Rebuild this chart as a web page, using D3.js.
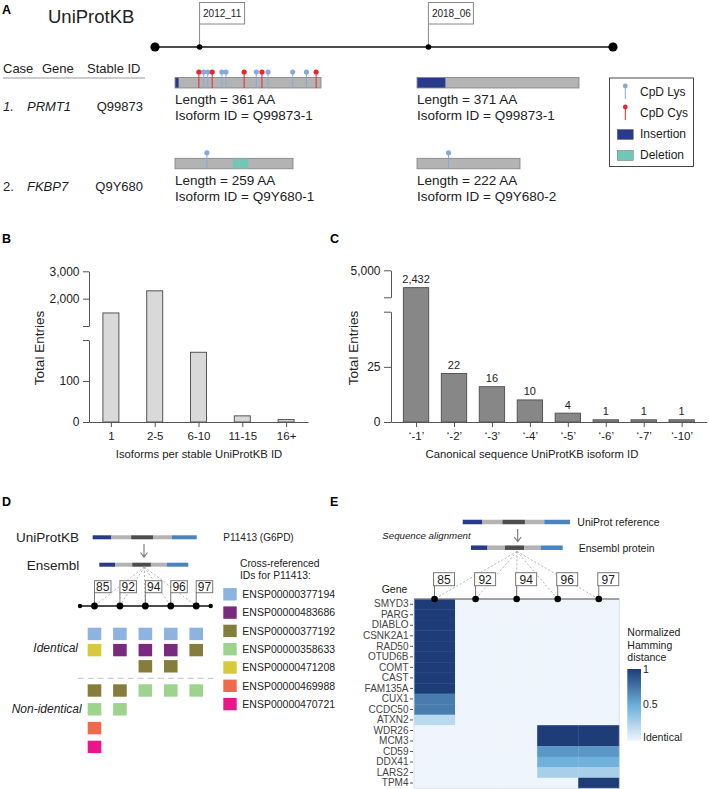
<!DOCTYPE html>
<html>
<head>
<meta charset="utf-8">
<script src="https://cdn.jsdelivr.net/npm/d3@7"></script>
<style>
  body { margin: 0; background: #fff; }
  svg { display: block; font-family: "Liberation Sans", Arial, sans-serif; }
</style>
</head>
<body>
<script>
// ---- Panel A data
const releaseNames = ["2012_11", "2018_06"];
const releaseDates = ["2012-11", "2018-06"];
const caseGenes = ["PRMT1", "FKBP7"];
const stableIds = ["Q99873", "Q9Y680"];
const isoformLengths = [[361, 371], [259, 222]];
const isoformIds = [["Q99873-1", "Q99873-1"], ["Q9Y680-1", "Q9Y680-2"]];
const lysSites = [[[71, 81, 116, 126, 201, 230, 291, 325], []], [[70], [68]]];
const cysSites = [[[59, 92, 171, 215, 349], []], [[], []]];
const insertions = [[[0, 8], [0, 64]], [null, null]];
const deletions = [[null, null], [[127, 161], null]];
const legendA = ["CpD Lys", "CpD Cys", "Insertion", "Deletion"];

// ---- Panel B data
const isoformBins = ["1", "2-5", "6-10", "11-15", "16+"];
const isoformBinCounts = [1477, 2286, 170, 15, 6];

// ---- Panel C data
const canonicalLabels = ["‘-1’", "‘-2’", "‘-3’", "‘-4’", "‘-5’", "‘-6’", "‘-7’", "‘-10’"];
const canonicalCounts = [2432, 22, 16, 10, 4, 1, 1, 1];

// ---- Panel D data
const ensemblReleases = ["85", "92", "94", "96", "97"];
const ensemblIds = ["ENSP00000377194", "ENSP00000483686", "ENSP00000377192", "ENSP00000358633",
  "ENSP00000471208", "ENSP00000469988", "ENSP00000470721"];
const ensemblColors = ["#8db3e0", "#7a2a7e", "#857d3c", "#9dd38c", "#d8c93a", "#f0694a", "#e8158b"];
const identicalIds = [
  ["ENSP00000377194", "ENSP00000471208"],
  ["ENSP00000377194", "ENSP00000483686"],
  ["ENSP00000377194", "ENSP00000483686", "ENSP00000377192"],
  ["ENSP00000377194", "ENSP00000483686", "ENSP00000377192"],
  ["ENSP00000377194", "ENSP00000377192"]
];
const nonIdenticalIds = [
  ["ENSP00000377192", "ENSP00000358633", "ENSP00000469988", "ENSP00000470721"],
  ["ENSP00000377192", "ENSP00000358633"],
  ["ENSP00000358633"],
  ["ENSP00000358633"],
  ["ENSP00000358633"]
];

// ---- Panel E data
const genes = ["SMYD3", "PARG", "DIABLO", "CSNK2A1", "RAD50", "OTUD6B", "COMT", "CAST", "FAM135A",
  "CUX1", "CCDC50", "ATXN2", "WDR26", "MCM3", "CD59", "DDX41", "LARS2", "TPM4"];
const hamming85 = [1, 1, 1, 1, 1, 1, 1, 1, 1, 0.72, 0.72, 0.2, 0, 0, 0, 0, 0, 0];
const hamming92 = [0, 0, 0, 0, 0, 0, 0, 0, 0, 0, 0, 0, 0, 0, 0, 0, 0, 0];
const hamming94 = [0, 0, 0, 0, 0, 0, 0, 0, 0, 0, 0, 0, 0, 0, 0, 0, 0, 0];
const hamming96 = [0, 0, 0, 0, 0, 0, 0, 0, 0, 0, 0, 0, 1, 1, 0.6, 0.48, 0.27, 0];
const hamming97 = [0, 0, 0, 0, 0, 0, 0, 0, 0, 0, 0, 0, 1, 1, 0.6, 0.48, 0.27, 1];
const hammingColumns = [hamming85, hamming92, hamming94, hamming96, hamming97];

// schematic protein domains (fractions of bar length)
const domainFractions = [0.18, 0.19, 0.21, 0.18, 0.24];
const domainColors = ["#273a8c", "#b3b3b3", "#4d4d4d", "#b3b3b3", "#4a84c0"];

const ink = "#222";
const svg = d3.select("body").append("svg").attr("width", 709).attr("height", 789);

function text(g, x, y, str, size, opts = {}) {
  return g.append("text").attr("x", x).attr("y", y).attr("font-size", size)
    .attr("fill", opts.fill || ink)
    .attr("text-anchor", opts.anchor || "start")
    .attr("font-style", opts.italic ? "italic" : null)
    .attr("font-weight", opts.bold ? "bold" : null)
    .text(str);
}

// panel letters
[["A", 2, 14], ["B", 2, 243], ["C", 330, 243], ["D", 2, 506], ["E", 330, 506]]
  .forEach(([l, x, y]) => text(svg, x, y, l, 12.5, { bold: true, fill: "#000" }));

// ================= Panel A =================
const gA = svg.append("g");
text(gA, 48, 23, "UniProtKB", 18.5);

const parseMonth = d3.timeParse("%Y-%m");
const xTime = d3.scaleTime([parseMonth("2011-10"), parseMonth("2022-12")], [155, 613]);
const tlY = 47;
gA.append("line").attr("x1", xTime.range()[0]).attr("x2", xTime.range()[1])
  .attr("y1", tlY).attr("y2", tlY).attr("stroke", "#111").attr("stroke-width", 1.3);
gA.selectAll("circle.end").data(xTime.range()).join("circle")
  .attr("cx", d => d).attr("cy", tlY).attr("r", 4.6).attr("fill", "#000");

const rel = gA.selectAll("g.rel").data(releaseNames).join("g");
rel.append("line")
  .attr("x1", (d, i) => xTime(parseMonth(releaseDates[i])))
  .attr("x2", (d, i) => xTime(parseMonth(releaseDates[i])))
  .attr("y1", 24).attr("y2", tlY).attr("stroke", "#888");
rel.append("rect")
  .attr("x", (d, i) => xTime(parseMonth(releaseDates[i])))
  .attr("y", 2.5).attr("width", 45).attr("height", 21.5)
  .attr("fill", "#fff").attr("stroke", "#888");
rel.append("text")
  .attr("x", (d, i) => xTime(parseMonth(releaseDates[i])) + 3.5)
  .attr("y", 17).attr("font-size", 10).attr("fill", ink).text(d => d);
rel.append("circle")
  .attr("cx", (d, i) => xTime(parseMonth(releaseDates[i])))
  .attr("cy", tlY).attr("r", 2.8).attr("fill", "#000");

// case table
text(gA, 3, 73, "Case", 13);
text(gA, 42, 73, "Gene", 13);
text(gA, 87, 73, "Stable ID", 13);
gA.append("line").attr("x1", 3).attr("x2", 145).attr("y1", 78).attr("y2", 78)
  .attr("stroke", "#999");

const rowY = [77.5, 158.3];        // top of protein bar per case
const colX = [175, 417];           // left of protein bar per release
const barPx = [[146, 162], [118, 103]];
const barH = 10.5;
const lysColor = "#85a9dd", cysColor = "#e8262b";

caseGenes.forEach((gene, i) => {
  const ty = rowY[i] + 33;
  text(gA, 3, ty, (i + 1) + ".", 13, { italic: i === 0 });
  text(gA, 27, ty, gene, 13, { italic: true });
  text(gA, 143, ty, stableIds[i], 13, { anchor: "end" });

  releaseNames.forEach((r, j) => {
    const len = isoformLengths[i][j];
    const x = d3.scaleLinear([0, len], [colX[j], colX[j] + barPx[i][j]]);
    const y0 = rowY[i];
    const g = gA.append("g");
    g.append("rect").attr("x", x(0)).attr("y", y0).attr("width", x(len) - x(0)).attr("height", barH)
      .attr("fill", "#b3b3b3").attr("stroke", "#808080").attr("stroke-width", 0.8);
    if (insertions[i][j]) {
      const [a, b] = insertions[i][j];
      g.append("rect").attr("x", x(a) + 0.4).attr("y", y0 + 0.4).attr("width", x(b) - x(a))
        .attr("height", barH - 0.8).attr("fill", "#273a8c");
    }
    if (deletions[i][j]) {
      const [a, b] = deletions[i][j];
      g.append("rect").attr("x", x(a)).attr("y", y0 + 0.4).attr("width", x(b) - x(a))
        .attr("height", barH - 0.8).attr("fill", "#72c6b6");
    }
    const sites = lysSites[i][j].map(p => ({ p, c: lysColor }))
      .concat(cysSites[i][j].map(p => ({ p, c: cysColor })));
    g.selectAll("line.site").data(sites).join("line")
      .attr("x1", d => x(d.p)).attr("x2", d => x(d.p))
      .attr("y1", y0 - 5).attr("y2", y0 + barH).attr("stroke", d => d.c).attr("stroke-width", 1);
    g.selectAll("circle.site").data(sites).join("circle")
      .attr("cx", d => x(d.p)).attr("cy", y0 - 5.5).attr("r", 2.6).attr("fill", d => d.c);
    text(g, x(0), y0 + 26.5, `Length = ${len} AA`, 13.5);
    text(g, x(0), y0 + 42.5, `Isoform ID = ${isoformIds[i][j]}`, 13.5);
  });
});

// legend A
const legA = gA.append("g");
legA.append("rect").attr("x", 609.5).attr("y", 78).attr("width", 84).attr("height", 88.5)
  .attr("fill", "#fff").attr("stroke", "#333").attr("stroke-width", 0.9);
legendA.forEach((lab, k) => {
  const cy = 92 + k * 21;
  if (k < 2) {
    const c = k === 0 ? lysColor : cysColor;
    legA.append("line").attr("x1", 625.3).attr("x2", 625.3).attr("y1", cy - 6).attr("y2", cy + 7)
      .attr("stroke", c);
    legA.append("circle").attr("cx", 625.3).attr("cy", cy - 6).attr("r", 2.4).attr("fill", c);
  } else {
    legA.append("rect").attr("x", 617.3).attr("y", cy - 4.5).attr("width", 16).attr("height", 10)
      .attr("fill", k === 2 ? "#273a8c" : "#72c6b6").attr("stroke", "#555").attr("stroke-width", 0.4);
  }
  text(legA, 640, cy + 4.3, lab, 12);
});

// ================= broken-axis bar charts =================
function brokenBars({ cats, vals, xRange, xPad, hiDom, hiRange, loDom, loRange, hiTicks, loTicks,
                      barW, fill, xLabel, yLabelX, xLabelX, values, tickLen }) {
  const g = svg.append("g");
  const x = d3.scalePoint(cats, xRange).padding(xPad);
  const yHi = d3.scaleLinear(hiDom, hiRange);
  const yLo = d3.scaleLinear(loDom, loRange);
  const y = v => v > loDom[1] ? yHi(v) : yLo(v);
  const base = loRange[0];

  g.selectAll("rect").data(vals).join("rect")
    .attr("x", (d, i) => x(cats[i]) - barW / 2).attr("y", d => y(d))
    .attr("width", barW).attr("height", d => base - y(d))
    .attr("fill", fill).attr("stroke", "#555").attr("stroke-width", 1);

  if (values) {
    g.selectAll("text.val").data(vals).join("text")
      .attr("x", (d, i) => x(cats[i])).attr("y", d => y(d) - 4.5)
      .attr("text-anchor", "middle").attr("font-size", 11).attr("fill", ink)
      .text(d => d3.format(",")(d));
  }

  const fmt = d3.format(",");
  const styleAxis = a => {
    a.attr("font-family", null).attr("font-size", 12);
    a.selectAll("path,line").attr("stroke", "#555");
    a.selectAll("text").attr("fill", ink);
  };
  g.append("g").attr("transform", `translate(${xRange[0]},0)`)
    .call(d3.axisLeft(yHi).tickValues(hiTicks).tickSize(tickLen).tickPadding(3.5).tickSizeOuter(0)
      .tickFormat(d => d === hiDom[0] ? "" : fmt(d)))
    .call(styleAxis);
  g.append("g").attr("transform", `translate(${xRange[0]},0)`)
    .call(d3.axisLeft(yLo).tickValues(loTicks).tickSize(tickLen).tickPadding(3.5).tickSizeOuter(0)
      .tickFormat(d => d === loDom[1] ? "" : fmt(d)))
    .call(styleAxis);
  g.append("g").attr("transform", `translate(0,${base})`)
    .call(d3.axisBottom(x).tickSize(5).tickPadding(5).tickSizeOuter(0))
    .call(styleAxis)
    .call(a => a.attr("font-size", 11.5));

  text(g, xLabelX, 458, xLabel, 11.3, { anchor: "middle" });
  g.append("text").attr("transform", `translate(${yLabelX},348) rotate(-90)`)
    .attr("text-anchor", "middle").attr("dy", "0.35em").attr("font-size", 13.5).attr("fill", ink)
    .text("Total Entries");
}

// Panel B
brokenBars({
  cats: isoformBins, vals: isoformBinCounts, xRange: [89, 308], xPad: 0.5,
  hiDom: [1000, 3000], hiRange: [326, 271.3], loDom: [0, 200], loRange: [422, 340],
  hiTicks: [1000, 2000, 3000], loTicks: [0, 100, 200], barW: 16, fill: "#d9d9d9",
  xLabel: "Isoforms per stable UniProtKB ID", yLabelX: 39, xLabelX: 199, values: false, tickLen: 6
});

// Panel C
brokenBars({
  cats: canonicalLabels, vals: canonicalCounts, xRange: [391, 706.7], xPad: 0.66,
  hiDom: [1000, 5000], hiRange: [297.3, 270.3], loDom: [0, 50], loRange: [422, 311.7],
  hiTicks: [1000, 5000], loTicks: [0, 25, 50], barW: 25.3, fill: "#878787",
  xLabel: "Canonical sequence UniProtKB isoform ID", yLabelX: 353, xLabelX: 532, values: true, tickLen: 7
});

// ================= schematic protein bar =================
function proteinBar(g, x0, x1, yc, h) {
  const x = d3.scaleLinear([0, 1], [x0, x1]);
  const edges = [0, ...d3.cumsum(domainFractions)];
  g.selectAll(null).data(domainColors).join("rect")
    .attr("x", (d, i) => x(edges[i])).attr("width", (d, i) => x(edges[i + 1]) - x(edges[i]))
    .attr("y", yc - h / 2).attr("height", h).attr("fill", d => d);
}
function arrow(g, x, y0, y1) {
  g.append("path").attr("d", `M${x},${y0}V${y1}M${x - 3.5},${y1 - 4.5}L${x},${y1}L${x + 3.5},${y1 - 4.5}`)
    .attr("fill", "none").attr("stroke", "#777").attr("stroke-width", 1.1);
}

// ================= Panel D =================
const gD = svg.append("g");
text(gD, 16, 542, "UniProtKB", 13.5);
text(gD, 26.7, 569.5, "Ensembl", 13.5);
proteinBar(gD, 92.7, 196.7, 537.3, 4);
arrow(gD, 144, 544, 557);
proteinBar(gD, 99.3, 188.3, 564.7, 4);
text(gD, 223.3, 541, "P11413 (G6PD)", 10);

const xD = d3.scalePoint(ensemblReleases, [80, 210.7]).padding(0.57);
const tlD = 606;
gD.selectAll("line.fan").data(ensemblReleases).join("line")
  .attr("x1", 144.3).attr("y1", 567).attr("x2", d => xD(d)).attr("y2", tlD)
  .attr("stroke", "#aaa").attr("stroke-dasharray", "2,2").attr("stroke-width", 0.9);
gD.append("line").attr("x1", 80).attr("x2", 210.7).attr("y1", tlD).attr("y2", tlD)
  .attr("stroke", "#111").attr("stroke-width", 1.3);
gD.selectAll("circle.end").data(xD.range()).join("circle")
  .attr("cx", d => d).attr("cy", tlD).attr("r", 2.2).attr("fill", "#000");
const relD = gD.selectAll("g.rel").data(ensemblReleases).join("g");
relD.append("line").attr("x1", d => xD(d)).attr("x2", d => xD(d)).attr("y1", 592.7).attr("y2", tlD)
  .attr("stroke", "#777");
relD.append("rect").attr("x", d => xD(d)).attr("y", 580.7).attr("width", 16.5).attr("height", 12)
  .attr("fill", "#fff").attr("stroke", "#777");
relD.append("text").attr("x", d => xD(d) + 8.3).attr("y", 591).attr("text-anchor", "middle")
  .attr("font-size", 12).attr("fill", ink).text(d => d);
relD.append("circle").attr("cx", d => xD(d)).attr("cy", tlD).attr("r", 3.4).attr("fill", "#000");

const colorD = d3.scaleOrdinal(ensemblIds, ensemblColors);
const sqW = 13.6, sqH = 12.4;
ensemblReleases.forEach((r, c) => {
  gD.selectAll(null).data(identicalIds[c]).join("rect")
    .attr("x", xD(r) - sqW / 2).attr("y", (d, k) => 627.7 + k * 16.2)
    .attr("width", sqW).attr("height", sqH).attr("fill", d => colorD(d));
  gD.selectAll(null).data(nonIdenticalIds[c]).join("rect")
    .attr("x", xD(r) - sqW / 2).attr("y", (d, k) => 684.3 + k * 18.8)
    .attr("width", sqW).attr("height", sqH).attr("fill", d => colorD(d));
});
gD.append("line").attr("x1", 77.7).attr("x2", 213.3).attr("y1", 678.3).attr("y2", 678.3)
  .attr("stroke", "#c4c4c4").attr("stroke-dasharray", "6,4");
text(gD, 78, 652, "Identical", 12, { anchor: "end", italic: true });
text(gD, 81.7, 712.5, "Non-identical", 12, { anchor: "end", italic: true });

text(gD, 240, 566.5, "Cross-referenced", 10.3);
text(gD, 240, 578.5, "IDs for P11413:", 10.3);
const legD = gD.selectAll("g.leg").data(ensemblIds).join("g")
  .attr("transform", (d, k) => `translate(223.3,${594.3 + k * 18.3})`);
legD.append("rect").attr("y", -6.2).attr("width", 13.4).attr("height", 12.4).attr("fill", d => colorD(d));
legD.append("text").attr("x", 19).attr("y", 3.8).attr("font-size", 10.5).attr("fill", ink).text(d => d);

// ================= Panel E =================
const gE = svg.append("g");
proteinBar(gE, 462.7, 570, 522, 4.5);
text(gE, 577.3, 526, "UniProt reference", 10.5);
arrow(gE, 517.7, 529, 541.5);
text(gE, 382.3, 538.5, "Sequence alignment", 9.7, { italic: true });
proteinBar(gE, 471, 562.7, 547.7, 4.5);
text(gE, 578.7, 551.5, "Ensembl protein", 10.5);

const xE = d3.scaleBand(ensemblReleases, [414, 619.3]);
const yE = d3.scaleBand(genes, [599, 788.3]);
const colorE = d3.scaleLinear([0, 0.5, 1], ["#eef5fc", "#6aaed9", "#1d3c78"]);

const cells = [];
ensemblReleases.forEach((r, c) => genes.forEach((g, k) => cells.push({ r, g, v: hammingColumns[c][k] })));
gE.selectAll("rect.cell").data(cells).join("rect")
  .attr("x", d => xE(d.r)).attr("y", d => yE(d.g))
  .attr("width", xE.bandwidth() + 0.3).attr("height", yE.bandwidth() + 0.3)
  .attr("fill", d => colorE(d.v));
gE.append("rect").attr("x", 414).attr("y", 599).attr("width", 205.3).attr("height", 189.3)
  .attr("fill", "none").attr("stroke", "#d6dde4").attr("stroke-width", 0.8);

const fanE = [517, 551.5];
gE.selectAll("line.fan").data(ensemblReleases).join("line")
  .attr("x1", fanE[0]).attr("y1", fanE[1])
  .attr("x2", d => xE(d) + xE.bandwidth() / 2).attr("y2", 599)
  .attr("stroke", "#aaa").attr("stroke-dasharray", "2,2").attr("stroke-width", 0.9);
gE.append("line").attr("x1", 414).attr("x2", 619.3).attr("y1", 599).attr("y2", 599)
  .attr("stroke", "#555").attr("stroke-width", 1);
const relE = gE.selectAll("g.rel").data(ensemblReleases).join("g");
const bx = d => xE(d) + xE.bandwidth() / 2;
relE.append("line").attr("x1", bx).attr("x2", bx).attr("y1", 585.7).attr("y2", 599).attr("stroke", "#777");
relE.append("rect").attr("x", d => bx(d) - 1).attr("y", 572.7).attr("width", 21).attr("height", 13)
  .attr("fill", "#fff").attr("stroke", "#777");
relE.append("text").attr("x", d => bx(d) + 9.5).attr("y", 583.5).attr("text-anchor", "middle")
  .attr("font-size", 12).attr("fill", ink).text(d => d);
relE.append("circle").attr("cx", bx).attr("cy", 599).attr("r", 3.3).attr("fill", "#000");

text(gE, 381.7, 593, "Gene", 10.5);
gE.append("g").attr("transform", "translate(413,0)")
  .call(d3.axisLeft(yE).tickSize(3).tickPadding(1.5))
  .call(a => {
    a.attr("font-family", null).attr("font-size", 10);
    a.select(".domain").remove();
    a.selectAll("line").attr("stroke", "#555");
    a.selectAll("text").attr("fill", "#444");
  });

// colour bar
text(gE, 627.3, 636, "Normalized", 10.5);
text(gE, 627.3, 648.5, "Hamming", 10.5);
text(gE, 627.3, 661, "distance", 10.5);
const yBar = d3.scaleLinear([0, 1], [740.7, 669]);
const grad = svg.append("defs").append("linearGradient").attr("id", "hamGrad")
  .attr("x1", 0).attr("x2", 0).attr("y1", 1).attr("y2", 0);
grad.selectAll("stop").data(colorE.domain()).join("stop")
  .attr("offset", d => d).attr("stop-color", d => colorE(d));
gE.append("rect").attr("x", 627.3).attr("y", yBar(1)).attr("width", 13.7)
  .attr("height", yBar(0) - yBar(1)).attr("fill", "url(#hamGrad)");
[[1, "1"], [0.5, "0.5"], [0, "Identical"]].forEach(([v, l]) =>
  text(gE, 643, yBar(v) + (v === 1 ? 4 : v === 0 ? 0.5 : 3.5), l, 10.5));
</script>
</body>
</html>
